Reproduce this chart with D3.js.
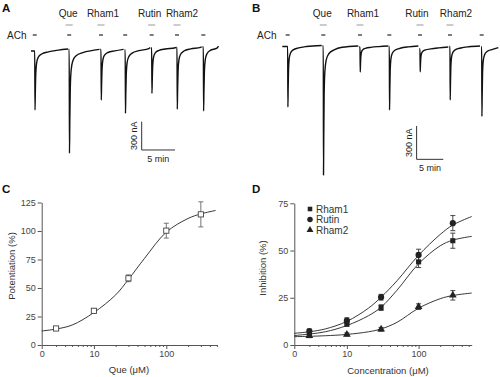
<!DOCTYPE html>
<html>
<head>
<meta charset="utf-8">
<script src="https://cdn.jsdelivr.net/npm/d3@7"></script>
<style>
body { margin: 0; background: #fff; }
text { font-family: "Liberation Sans", Arial, sans-serif; }
</style>
</head>
<body>
<svg id="fig" width="500" height="377"></svg>
<script>
// ---------- traces (A, B): one entry per ACh application, time in min, current in nA ----------
const drugs = ['Que', 'Rham1', 'Rutin', 'Rham2'];
const drugSweeps = [1, 2, 4, 5];

const aStart = [0, 5.62, 10.39, 14.03, 18.0, 21.8, 25.72];
const aSpike = [0.56, 5.73, 10.5, 14.13, 18.1, 21.9, 25.85];
const aEnd   = [5.55, 10.28, 13.88, 17.9, 21.75, 25.6, 28.12];
const aPeak  = [-636, -1094, -530, -671, -459, -628, -646];
const aBase0 = [-11, 5, 5, 0, 21, 26, 32];
const aBase1 = [11, 7, 7, 24, 29, 35, 42];

const bStart = [0, 7.54, 14.43, 19.98, 25.7, 31.33, 37.28];
const bSpike = [1.01, 7.69, 14.58, 20.08, 25.83, 31.46, 37.41];
const bEnd   = [7.39, 14.26, 19.89, 25.52, 31.14, 37.09, 40.53];
const bPeak  = [-550, -1162, -234, -577, -232, -486, -635];
const bBase0 = [-5, 0, -9, -5, -27, -5, -9];
const bBase1 = [5, 0, 0, 0, -9, 0, -14];

// shape of the current decay after the peak: [min after peak, fraction of peak left]
const recovery = [[0, 1], [0.05, 0.7], [0.12, 0.38], [0.25, 0.2], [0.5, 0.11], [1, 0.06], [2, 0.03], [3.5, 0.01]];

// ---------- C: Que potentiation ----------
const conc = [3, 10, 30, 100, 300];
const queMean = [14.5, 30, 58.5, 100.3, 114.6];
const queErr = [1, 2, 3, 6.5, 11];
const queFitX = [1.9, 3, 5, 10, 20, 30, 50, 100, 200, 300, 480];
const queFitY = [12.3, 14, 17.5, 28.5, 44, 57.5, 76, 99, 111, 115, 118];

// ---------- D: inhibition ----------
const series = ['Rham1', 'Rutin', 'Rham2'];
const rham1Mean = [6, 11, 19.8, 44, 55.2];
const rham1Err = [1, 1, 1.5, 3, 4];
const rutinMean = [7.4, 12.9, 25.3, 47.7, 64.5];
const rutinErr = [1, 1.5, 1.5, 3, 4];
const rham2Mean = [4.9, 5.6, 8.3, 20.3, 26.3];
const rham2Err = [1, 0.8, 1, 1.5, 2.5];
const fitX = [1.85, 3, 5, 10, 20, 30, 50, 100, 200, 300, 550];
const rham1Fit = [5, 5.8, 7, 10.3, 15.5, 20, 29, 43, 52.5, 55.5, 57.5];
const rutinFit = [6.2, 7, 8.5, 12.5, 19.5, 25.3, 34, 47.5, 58.5, 63.5, 68];
const rham2Fit = [4.4, 4.6, 4.9, 5.6, 7, 8.5, 12, 19.5, 24.5, 26.2, 27.5];

const yTicksC = [0, 25, 50, 75, 100, 125];
const yTicksD = [0, 25, 50, 75];
const minorTicks = [3, 4, 5, 6, 7, 8, 9, 20, 30, 40, 50, 60, 70, 80, 90, 200, 300, 400, 500];

const svg = d3.select('#fig');
const ink = '#111';
const axisInk = '#555';

function panelLetter(x, y, s) {
    svg.append('text').attr('x', x).attr('y', y).attr('font-size', 11.5)
        .attr('font-weight', 'bold').attr('fill', ink).text(s);
}

// ---------- trace panels ----------
function tracePanel(p) {
    const x = d3.scaleLinear().domain(p.tDomain).range(p.xRange);
    const y = d3.scaleLinear().domain([0, -1000]).range([p.y0, p.y0 + 1000 * p.pxPerNA]);
    const g = svg.append('g');

    const line = d3.line().x(d => x(d[0])).y(d => y(d[1])).curve(d3.curveMonotoneX);

    p.start.forEach((s, i) => {
        const sw = {start: s, spike: p.spike[i], end: p.end[i], peak: p.peak[i], b0: p.b0[i], b1: p.b1[i]};
        const base = t => sw.b0 + (sw.b1 - sw.b0) * (t - sw.start) / (sw.end - sw.start);
        const pts = [[sw.start, sw.b0], [sw.spike, base(sw.spike)]];
        const tp = sw.spike + 0.04;
        recovery.forEach(([dt, f]) => {
            const t = tp + dt;
            if (t < sw.end) pts.push([t, base(t) + f * (sw.peak - base(t))]);
        });
        pts.push([sw.end, sw.b1]);
        g.append('path').attr('d', line(pts)).attr('fill', 'none')
            .attr('stroke', ink).attr('stroke-width', 1.4).attr('stroke-linejoin', 'round');

        // ACh application marks
        g.append('line').attr('x1', x(sw.spike) - 2).attr('x2', x(sw.spike) + 2)
            .attr('y1', 35).attr('y2', 35).attr('stroke', ink).attr('stroke-width', 1.1);
    });

    // drug bars and labels
    drugSweeps.forEach((k, j) => {
        const cx = x(p.spike[k]);
        g.append('line').attr('x1', cx - 3.5).attr('x2', cx + 3.5).attr('y1', 25).attr('y2', 25)
            .attr('stroke', '#999').attr('stroke-width', 1);
        g.append('text').attr('x', cx + p.labelDx[j]).attr('y', 17).attr('text-anchor', 'middle')
            .attr('font-size', 10).attr('fill', '#222').text(drugs[j]);
    });

    g.append('text').attr('x', p.achX).attr('y', 39).attr('font-size', 10).attr('fill', '#222').text('ACh');

    // scale bar: 300 nA, 5 min
    const bx = x(p.bar[0]), by = y(p.bar[1]);
    g.append('path')
        .attr('d', `M${bx},${y(p.bar[1] + 300)}V${by}H${x(p.bar[0] + 5)}`)
        .attr('fill', 'none').attr('stroke', '#333').attr('stroke-width', 1);
    g.append('text').attr('transform', `translate(${bx - 5},${(by + y(p.bar[1] + 300)) / 2}) rotate(-90)`)
        .attr('text-anchor', 'middle').attr('font-size', 9).attr('fill', '#222').text('300 nA');
    g.append('text').attr('x', (bx + x(p.bar[0] + 5)) / 2).attr('y', by + 12)
        .attr('text-anchor', 'middle').attr('font-size', 9).attr('fill', '#222').text('5 min');
}

tracePanel({
    tDomain: [0, 28], xRange: [31, 31 + 28 * 6.667], y0: 50, pxPerNA: 0.0944,
    start: aStart, spike: aSpike, end: aEnd, peak: aPeak, b0: aBase0, b1: aBase1,
    labelDx: [-1, 2, -2, 5], achX: 7, bar: [16.6, -1059]
});
tracePanel({
    tDomain: [0, 40.53], xRange: [282.3, 282.3 + 40.53 * 5.33], y0: 46, pxPerNA: 0.111,
    start: bStart, spike: bSpike, end: bEnd, peak: bPeak, b0: bBase0, b1: bBase1,
    labelDx: [-1, 3, -3, 6], achX: 257, bar: [25.2, -1021]
});

panelLetter(2, 12, 'A');
panelLetter(252, 12, 'B');

// ---------- dose-response panels ----------
function doseAxes(x, y, yTicks, originLabel) {
    const gy = svg.append('g').attr('transform', `translate(${x.range()[0]},0)`)
        .call(d3.axisLeft(y).tickValues(yTicks).tickSize(4).tickSizeOuter(0).tickPadding(2));
    const gx = svg.append('g').attr('transform', `translate(0,${y.range()[0]})`)
        .call(d3.axisBottom(x).tickValues([x.domain()[0], 10, 100]).tickSize(4).tickSizeOuter(0)
            .tickFormat(d => d === x.domain()[0] ? originLabel : d3.format('d')(d)).tickPadding(2));
    const gm = svg.append('g').attr('transform', `translate(0,${y.range()[0]})`)
        .call(d3.axisBottom(x).tickValues(minorTicks.filter(v => v <= x.domain()[1])).tickSize(2)
            .tickSizeOuter(0).tickFormat(''));
    gm.select('.domain').remove();
    [gy, gx, gm].forEach(g => {
        g.selectAll('.domain, line').attr('stroke', axisInk);
        g.selectAll('text').attr('font-size', 9).attr('fill', '#444')
            .attr('font-family', '"Liberation Sans", Arial, sans-serif');
    });
}

function errorBars(x, y, xs, means, errs, color) {
    const g = svg.append('g').attr('stroke', color).attr('stroke-width', 0.9).attr('fill', 'none');
    xs.forEach((c, i) => {
        const cx = x(c), top = y(means[i] + errs[i]), bot = y(means[i] - errs[i]);
        g.append('path').attr('d', `M${cx},${top}V${bot}M${cx - 2.5},${top}H${cx + 2.5}M${cx - 2.5},${bot}H${cx + 2.5}`);
    });
}

// C
const xC = d3.scaleLog().domain([1.9, 500]).range([41.7, 216.9]);
const yC = d3.scaleLinear().domain([0, 125]).range([345, 202.5]);
doseAxes(xC, yC, yTicksC, '0');
svg.append('path')
    .attr('d', d3.line().x((d, i) => xC(queFitX[i])).y(d => yC(d)).curve(d3.curveCatmullRom)(queFitY))
    .attr('fill', 'none').attr('stroke', '#222').attr('stroke-width', 0.9);
errorBars(xC, yC, conc, queMean, queErr, '#666');
svg.append('g').selectAll('rect').data(queMean).enter().append('rect')
    .attr('x', (d, i) => xC(conc[i]) - 2.6).attr('y', d => yC(d) - 2.6)
    .attr('width', 5.2).attr('height', 5.2)
    .attr('fill', '#fff').attr('stroke', '#444').attr('stroke-width', 0.9);
svg.append('text').attr('transform', 'translate(15,266) rotate(-90)').attr('text-anchor', 'middle')
    .attr('font-size', 9.5).attr('fill', '#333').text('Potentiation (%)');
svg.append('text').attr('x', 129).attr('y', 373).attr('text-anchor', 'middle')
    .attr('font-size', 9.5).attr('fill', '#333').text('Que (\u03bcM)');
panelLetter(2, 193, 'C');

// D
const xD = d3.scaleLog().domain([1.85, 550]).range([294.3, 471.7]);
const yD = d3.scaleLinear().domain([0, 75]).range([345, 203.3]);
doseAxes(xD, yD, yTicksD, '0');

const fitLine = ys => d3.line().x((d, i) => xD(fitX[i])).y(d => yD(d)).curve(d3.curveCatmullRom)(ys);
[rham1Fit, rutinFit, rham2Fit].forEach(f => {
    svg.append('path').attr('d', fitLine(f)).attr('fill', 'none')
        .attr('stroke', '#222').attr('stroke-width', 0.9);
});
errorBars(xD, yD, conc, rham1Mean, rham1Err, '#333');
errorBars(xD, yD, conc, rutinMean, rutinErr, '#333');
errorBars(xD, yD, conc, rham2Mean, rham2Err, '#333');

const markColor = '#222';
const symbols = [d3.symbolSquare, d3.symbolCircle, d3.symbolTriangle];
const symSize = [26, 30, 26];
[rham1Mean, rutinMean, rham2Mean].forEach((m, s) => {
    svg.append('g').selectAll('path').data(m).enter().append('path')
        .attr('transform', (d, i) => `translate(${xD(conc[i])},${yD(d)})`)
        .attr('d', d3.symbol().type(symbols[s]).size(symSize[s]))
        .attr('fill', markColor);
});

// legend
series.forEach((name, i) => {
    const ly = 209 + i * 10.5;
    svg.append('path').attr('transform', `translate(310,${ly})`)
        .attr('d', d3.symbol().type(symbols[i]).size(symSize[i] * 0.8)).attr('fill', markColor);
    svg.append('text').attr('x', 316).attr('y', ly + 3.5).attr('font-size', 10)
        .attr('fill', '#333').text(name);
});

svg.append('text').attr('transform', 'translate(266,268) rotate(-90)').attr('text-anchor', 'middle')
    .attr('font-size', 9.5).attr('fill', '#333').text('Inhibition (%)');
svg.append('text').attr('x', 388).attr('y', 374).attr('text-anchor', 'middle')
    .attr('font-size', 9.5).attr('fill', '#333').text('Concentration (\u03bcM)');
panelLetter(252, 193, 'D');
</script>
</body>
</html>
